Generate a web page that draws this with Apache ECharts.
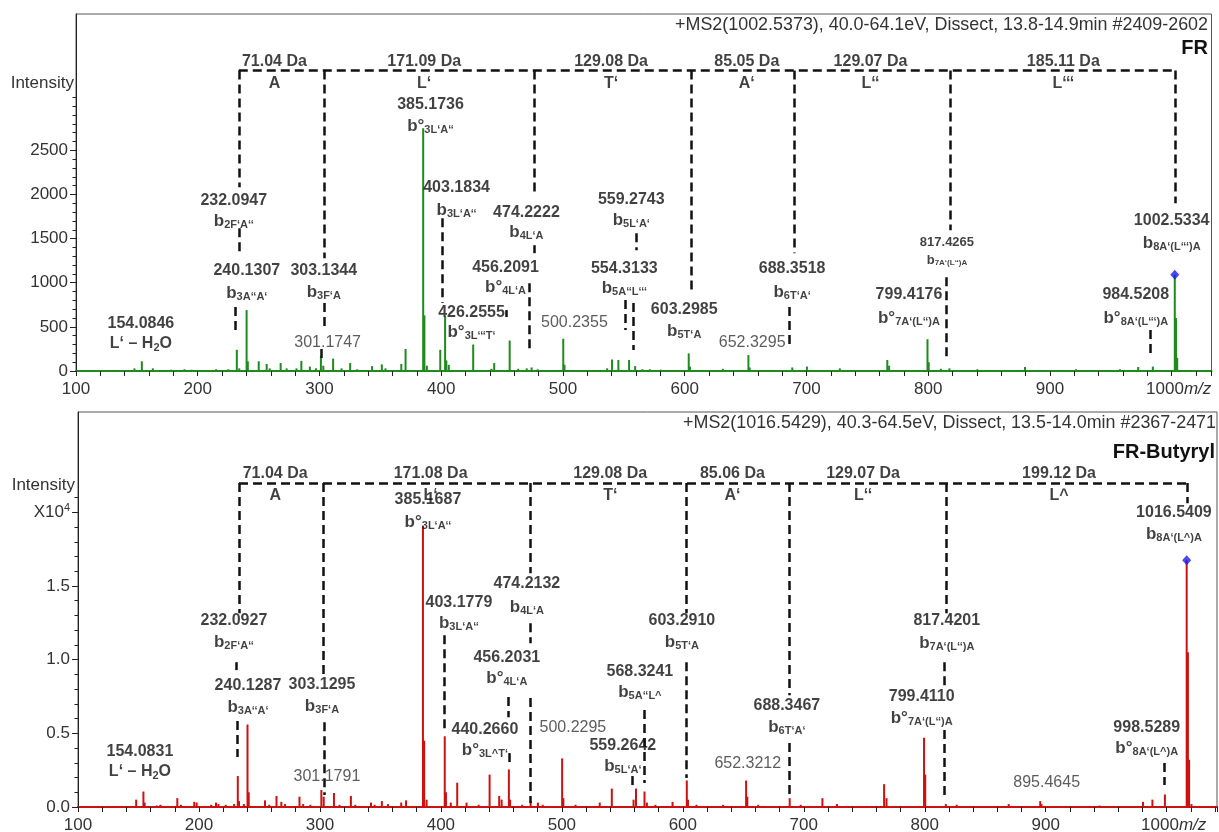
<!DOCTYPE html>
<html>
<head>
<meta charset="utf-8">
<script src="https://cdn.jsdelivr.net/npm/echarts@6/dist/echarts.min.js"></script>
<style>
  html, body { margin: 0; padding: 0; background: #fff; }
  #chart { width: 1219px; height: 832px; }
</style>
</head>
<body>
<div id="chart"></div>
<script>
// ---------- axis tick labels ----------
const mzTicks = [100, 200, 300, 400, 500, 600, 700, 800, 900, 1000];
const frIntensityTicks = [0, 500, 1000, 1500, 2000, 2500];
const butIntensityTicks = [0, 0.5, 1.0, 1.5, 2.0];   // top tick carries the x10^4 factor

// ---------- headers ----------
const frHeader = '+MS2(1002.5373), 40.0-64.1eV, Dissect, 13.8-14.9min #2409-2602';
const frName = 'FR';
const butHeader = '+MS2(1016.5429), 40.3-64.5eV, Dissect, 13.5-14.0min #2367-2471';
const butName = 'FR-Butyryl';

// ---------- FR spectrum: [m/z, intensity] ----------
const frPeaks = [
  [148.0, 30], [154.0846, 110], [163.1, 30], [178.0, 15], [189.1, 20], [195.0, 15], [208.0, 12],
  [215.1, 20], [225.1, 20], [232.0947, 240], [234.1, 30], [240.1307, 690], [241.13, 110],
  [250.1, 110], [256.6, 80], [259.1, 30], [268.1, 90], [273.0, 30], [281.1, 30], [285.1, 115],
  [292.1, 50], [297.1, 30], [301.1747, 170], [303.1344, 60], [311.2, 140], [318.1, 30],
  [325.2, 90], [331.0, 20], [343.2, 55], [351.2, 75], [354.2, 30], [367.2, 80], [370.7, 250],
  [385.1736, 2750], [386.17, 630], [388.2, 60], [399.2, 240], [403.1834, 620], [404.18, 120],
  [406.2, 70], [426.2555, 300], [441.2, 25], [443.5, 90], [456.2091, 345], [463.2, 25],
  [470.2, 30], [474.2222, 40], [479.2, 20], [500.2355, 365], [501.24, 70], [536.3, 30],
  [540.3, 130], [545.5, 125], [554.3133, 125], [559.2743, 55], [565.3, 20], [571.3, 20],
  [580.3, 15], [603.2985, 200], [604.3, 50], [631.3, 25], [652.3295, 180], [653.33, 40],
  [688.3518, 40], [700.4, 50], [727.4, 30], [766.4, 125], [767.9, 60], [799.4176, 360],
  [800.42, 100], [810.4, 25], [817.4265, 30], [840.4, 20], [879.5, 45], [921.5, 20], [957.5, 20],
  [972.5, 45], [984.5208, 50], [1002.5334, 1090], [1003.53, 600], [1004.53, 150]
];
const frPrecursor = 1002.5334;

// ---------- FR-Butyryl spectrum: [m/z, intensity x10^4] ----------
const butPeaks = [
  [148.1, 0.05], [154.0831, 0.105], [155.1, 0.03], [165.1, 0.01], [168.1, 0.015], [182.1, 0.06],
  [185.1, 0.015], [196.1, 0.035], [198.1, 0.03], [210.1, 0.015], [214.1, 0.03], [216.1, 0.02],
  [222.1, 0.015], [229.1, 0.02], [232.0927, 0.21], [233.1, 0.04], [237.1, 0.02], [240.1287, 0.56],
  [241.13, 0.1], [254.6, 0.045], [258.1, 0.015], [264.1, 0.075], [268.1, 0.035], [271.1, 0.02],
  [283.1, 0.07], [286.1, 0.02], [292.1, 0.015], [301.1791, 0.115], [303.1295, 0.07], [311.6, 0.095],
  [316.2, 0.015], [325.6, 0.075], [329.2, 0.015], [342.2, 0.03], [345.2, 0.015], [351.2, 0.04],
  [356.2, 0.02], [367.2, 0.03], [371.2, 0.045], [385.1687, 1.91], [386.17, 0.45], [388.2, 0.05],
  [403.1779, 0.48], [404.18, 0.1], [408.2, 0.03], [413.5, 0.165], [421.2, 0.03], [431.2, 0.015],
  [440.2660, 0.22], [448.2, 0.075], [450.2, 0.05], [456.2031, 0.255], [457.2, 0.05], [467.2, 0.015],
  [474.2132, 0.04], [480.2, 0.03], [484.2, 0.015], [500.2295, 0.33], [501.23, 0.06], [511.3, 0.015],
  [531.3, 0.03], [541.3, 0.125], [559.2642, 0.05], [561.3, 0.125], [568.3241, 0.105], [570.3, 0.03],
  [577.3, 0.015], [591.5, 0.035], [603.2910, 0.18], [604.29, 0.05], [611.3, 0.015], [633.3, 0.015],
  [652.3212, 0.18], [653.32, 0.07], [662.3, 0.015], [688.3467, 0.06], [697.4, 0.015], [715.4, 0.06],
  [727.4, 0.02], [766.4, 0.155], [768.4, 0.06], [799.4110, 0.47], [800.41, 0.22], [817.4201, 0.02],
  [826.4, 0.015], [869.4, 0.02], [895.4645, 0.04], [896.5, 0.02], [944.5, 0.01], [980.4, 0.035],
  [988.2, 0.05], [998.5289, 0.085], [1016.5409, 1.675], [1017.54, 1.05], [1018.54, 0.32], [1020.5, 0.02]
];
const butPrecursor = 1016.5409;

// ---------- sequence ladders (dashed brackets), in data units ----------
const frLadderLevel = 3404;
const frRungs = [[233.7, 2081], [304.3, 1278], [476.6, 1991], [605.1, 893], [689.9, 1335], [818.4, 1595], [1003.3, 1900]];
const frLeaders = [
  [233.7, 1617, 1312], [230.6, 724, 407], [304.3, 769, 498], [301.6, 249, 147],
  [476.6, 1425, 1335], [472.5, 995, 204], [400.8, 1730, 769], [453.6, 690, 611],
  [560.5, 1561, 1369], [558.0, 769, 238], [551.2, 803, 464], [685.8, 724, 271],
  [815.1, 1063, 158], [982.5, 464, 158]
];
const frResidues = [
  [263, '71.04 Da', 'A'], [386, '171.09 Da', 'L‘'], [539.5, '129.08 Da', 'T‘'],
  [651, '85.05 Da', 'A‘'], [752.6, '129.07 Da', 'L‘‘'], [911, '185.11 Da', 'L‘‘‘']
];

const butLadderLevel = 2.199;
const butRungs = [[233.1, 1.315], [302.5, 0.881], [474.1, 1.586], [602.5, 1.315], [687.9, 0.759], [817.9, 1.315], [1016.8, 2.061]];
const butLeaders = [
  [231.2, 0.983, 0.929], [232.0, 0.583, 0.339], [303.3, 0.576, 0.081],
  [474.1, 1.247, 1.112], [473.6, 0.739, 0.027], [402.7, 1.166, 0.502],
  [455.6, 0.746, 0.61], [456.2, 0.366, 0.305], [602.5, 0.983, 0.197],
  [568.0, 0.658, 0.163], [558.1, 0.21, 0.149], [687.9, 0.434, 0.081],
  [816.5, 0.983, 0.793], [816.5, 0.522, 0.068], [998.3, 0.298, 0.149]
];
const butResidues = [
  [263, '71.04 Da', 'A'], [391.5, '171.08 Da', 'L‘'], [540, '129.08 Da', 'T‘'],
  [641, '85.06 Da', 'A‘'], [749, '129.07 Da', 'L‘‘'], [911, '199.12 Da', 'L^']
];

// ---------- fragment annotations: [m/z anchor, intensity anchor, text, kind] ----------
const frMassLabels = [
  [153.3, 532, '154.0846', 'b'], [229.6, 1934, '232.0947', 'b'], [240.3, 1142, '240.1307', 'b'],
  [303.5, 1142, '303.1344', 'b'], [306.7, 317, '301.1747', 'r'], [391.2, 3020, '385.1736', 'b'],
  [412.6, 2081, '403.1834', 'b'], [470, 1798, '474.2222', 'b'], [452.8, 1176, '456.2091', 'b'],
  [424.9, 667, '426.2555', 'b'], [509.4, 543, '500.2355', 'r'], [556.1, 1945, '559.2743', 'b'],
  [550.4, 1165, '554.3133', 'b'], [599.6, 690, '603.2985', 'b'], [655.4, 317, '652.3295', 'r'],
  [688.2, 1165, '688.3518', 'b'], [815.4, 1459, '817.4265', 'sm'], [784.2, 860, '799.4176', 'b'],
  [1000, 1708, '1002.5334', 'b'], [970.5, 860, '984.5208', 'b']
];
// [m/z anchor, intensity anchor, ion, subscript, trailing text, size]
const frIonLabels = [
  [153.3, 305, 'L‘ – H', '2', 'O'], [229.6, 1697, 'b', '2F‘A‘‘'], [240.3, 882, 'b', '3A‘‘A‘'],
  [303.5, 893, 'b', '3F‘A'], [391.2, 2771, 'b°', '3L‘A‘‘'], [412.6, 1821, 'b', '3L‘A‘‘'],
  [470, 1572, 'b', '4L‘A'], [452.8, 950, 'b°', '4L‘A'], [424.9, 441, 'b°', '3L‘‘‘T‘'],
  [556.1, 1708, 'b', '5L‘A‘'], [550.4, 939, 'b', '5A‘‘L‘‘‘'], [599.6, 452, 'b', '5T‘A'],
  [688.2, 893, 'b', '6T‘A‘'], [815.4, 1255, 'b', '7A‘(L‘‘)A', '', 'sm'],
  [784.2, 599, 'b°', '7A‘(L‘‘)A'], [1000, 1448, 'b', '8A‘(L‘‘‘)A'], [970.5, 599, 'b°', '8A‘(L‘‘‘)A']
];

const butMassLabels = [
  [151.2, 0.373, '154.0831', 'b'], [228.9, 1.268, '232.0927', 'b'], [240.5, 0.827, '240.1287', 'b'],
  [301.7, 0.834, '303.1295', 'b'], [305.8, 0.203, '301.1791', 'r'], [389.3, 2.088, '385.1687', 'b'],
  [414.9, 1.39, '403.1779', 'b'], [471.1, 1.519, '474.2132', 'b'], [454.5, 1.017, '456.2031', 'b'],
  [436.4, 0.522, '440.2660', 'b'], [509.1, 0.542, '500.2295', 'r'], [564.5, 0.922, '568.3241', 'b'],
  [550.4, 0.414, '559.2642', 'b'], [599.2, 1.268, '603.2910', 'b'], [653.7, 0.292, '652.3212', 'r'],
  [686, 0.685, '688.3467', 'b'], [818.2, 1.268, '817.4201', 'b'], [797.5, 0.746, '799.4110', 'b'],
  [900.8, 0.163, '895.4645', 'r'], [983.5, 0.536, '998.5289', 'b'], [1006, 2.0, '1016.5409', 'b']
];
const butIonLabels = [
  [151.2, 0.237, 'L‘ – H', '2', 'O'], [228.9, 1.119, 'b', '2F‘A‘‘'], [240.5, 0.678, 'b', '3A‘‘A‘'],
  [301.7, 0.685, 'b', '3F‘A'], [389.3, 1.932, 'b°', '3L‘A‘‘'], [414.9, 1.247, 'b', '3L‘A‘‘'],
  [471.1, 1.356, 'b', '4L‘A'], [454.5, 0.875, 'b°', '4L‘A'], [436.4, 0.386, 'b°', '3L^T‘'],
  [564.5, 0.78, 'b', '5A‘‘L^'], [550.4, 0.278, 'b', '5L‘A‘'], [599.2, 1.119, 'b', '5T‘A'],
  [686, 0.542, 'b', '6T‘A‘'], [818.2, 1.112, 'b', '7A‘(L‘‘)A'], [797.5, 0.603, 'b°', '7A‘(L‘‘)A'],
  [983.5, 0.4, 'b°', '8A‘(L^)A'], [1006, 1.851, 'b', '8A‘(L^)A']
];

// ---------- styling ----------
const FONT = '"Liberation Sans", Arial, Helvetica, sans-serif';
const INK = '#111';
const AXIS_TEXT = '#333';
const GREEN = '#1f8b1f';
const RED = '#cc1111';
const BLUE = '#1a1aee';

const noStroke = { textBorderWidth: 0, textBorderColor: 'transparent', textShadowBlur: 0 };
const rich = {
  b:     { fontFamily: FONT, fontWeight: 'bold', fontSize: 16, color: INK, lineHeight: 18, ...noStroke },
  r:     { fontFamily: FONT, fontWeight: 'normal', fontSize: 16, color: AXIS_TEXT, lineHeight: 18, ...noStroke },
  sm:    { fontFamily: FONT, fontWeight: 'bold', fontSize: 13, color: INK, lineHeight: 15, ...noStroke },
  ion:   { fontFamily: FONT, fontWeight: 'bold', fontSize: 17, color: INK, lineHeight: 19, ...noStroke },
  sub:   { fontFamily: FONT, fontWeight: 'bold', fontSize: 11, color: INK, lineHeight: 12, padding: [8, 0, 0, 0], ...noStroke },
  ionSm: { fontFamily: FONT, fontWeight: 'bold', fontSize: 13, color: INK, lineHeight: 15, ...noStroke },
  subSm: { fontFamily: FONT, fontWeight: 'bold', fontSize: 8, color: INK, lineHeight: 9, padding: [6, 0, 0, 0], ...noStroke }
};

function ionText(entry) {
  const [, , base, sub, tail, size] = entry;
  const small = size === 'sm';
  const bk = base.startsWith('b') ? (small ? 'ionSm' : 'ion') : 'b';
  const sk = small ? 'subSm' : 'sub';
  return '{' + bk + '|' + base + '}{' + sk + '|' + sub + '}' + (tail ? '{' + bk + '|' + tail + '}' : '');
}

function range(from, to, step, digits) {
  const out = [];
  for (let v = from; v <= to + step / 2; v += step) out.push(+v.toFixed(digits));
  return out;
}

function mzAxis(gridIndex, max, baseColor) {
  return {
    type: 'value', gridIndex, min: 100, max, interval: 20, position: 'bottom',
    axisLine: { show: true, onZero: false, lineStyle: { color: baseColor, width: 2 } },
    axisTick: { show: true, length: 5, lineStyle: { color: '#222', width: 1 } },
    axisLabel: {
      show: true, customValues: mzTicks, margin: 10,
      fontFamily: FONT, fontSize: 17, color: AXIS_TEXT,
      formatter: v => (v === 1000 ? '{p|1000}{i|m/z}' : String(v)),
      rich: {
        p: { fontFamily: FONT, fontSize: 17, color: AXIS_TEXT, padding: [0, 0, 0, 14] },
        i: { fontFamily: FONT, fontSize: 17, color: AXIS_TEXT, fontStyle: 'italic' }
      }
    },
    splitLine: { show: false }, minorTick: { show: false }
  };
}

function intensityAxes(gridIndex, max, majors, minors, fmt) {
  return [
    {
      type: 'value', gridIndex, min: 0, max, position: 'left', offset: 0,
      axisLine: { show: true, onZero: false, lineStyle: { color: '#222', width: 1 } },
      axisTick: { show: true, length: 6, customValues: majors, lineStyle: { color: '#222', width: 1 } },
      axisLabel: {
        show: true, customValues: majors, margin: 8, formatter: fmt,
        fontFamily: FONT, fontSize: 17, color: AXIS_TEXT,
        rich: { sup: { fontFamily: FONT, fontSize: 11, color: AXIS_TEXT, lineHeight: 11, padding: [0, 0, 9, 0] } }
      },
      splitLine: { show: false }
    },
    {
      type: 'value', gridIndex, min: 0, max, position: 'left', offset: 0,
      axisLine: { show: false },
      axisTick: { show: true, length: 3.5, customValues: minors, lineStyle: { color: '#222', width: 1 } },
      axisLabel: { show: false },
      splitLine: { show: false }
    }
  ];
}

function panelSeries(xi, yi, peaks, color, precursor, level, rungs, leaders, residues, massLabels, ionLabels) {
  const dash = { color: '#111', width: 2.5, type: [9, 5] };
  const lines = [];
  lines.push([{ coord: [rungs[0][0], level] }, { coord: [rungs[rungs.length - 1][0], level] }]);
  rungs.forEach(([mz, low]) => lines.push([{ coord: [mz, level] }, { coord: [mz, low] }]));
  leaders.forEach(([mz, a, b]) => lines.push([{ coord: [mz, a] }, { coord: [mz, b] }]));

  const top = peaks.find(p => p[0] === precursor);
  const textBase = { show: true, color: INK, ...noStroke, rich };
  const hidden = { color: 'transparent' };

  return [
    {
      type: 'bar', xAxisIndex: xi, yAxisIndex: yi, data: peaks, barWidth: 2,
      itemStyle: { color }, silent: true, z: 2
    },
    {
      type: 'scatter', xAxisIndex: xi, yAxisIndex: yi, data: [top],
      symbol: 'diamond', symbolSize: [9, 10], itemStyle: { color: BLUE }, silent: true, z: 4,
      markLine: {
        silent: true, symbol: ['none', 'none'], label: { show: false },
        lineStyle: dash, emphasis: { disabled: true }, data: lines, z: 3
      }
    },
    {
      type: 'scatter', xAxisIndex: xi, yAxisIndex: yi, symbolSize: 0, silent: true, z: 5, itemStyle: hidden,
      data: massLabels.map(m => ({ value: [m[0], m[1]], label: { formatter: '{' + m[3] + '|' + m[2] + '}' } })),
      label: { ...textBase, position: 'inside' }
    },
    {
      type: 'scatter', xAxisIndex: xi, yAxisIndex: yi, symbolSize: 0, silent: true, z: 5, itemStyle: hidden,
      data: ionLabels.map(m => ({ value: [m[0], m[1]], label: { formatter: ionText(m) } })),
      label: { ...textBase, position: 'inside' }
    },
    {
      type: 'scatter', xAxisIndex: xi, yAxisIndex: yi, symbolSize: 0, silent: true, z: 5, itemStyle: hidden,
      data: residues.map(r => ({ value: [r[0], level], label: { formatter: '{b|' + r[1] + '}' } })),
      label: { ...textBase, position: 'top', distance: 0 }
    },
    {
      type: 'scatter', xAxisIndex: xi, yAxisIndex: yi, symbolSize: 0, silent: true, z: 5, itemStyle: hidden,
      data: residues.map(r => ({ value: [r[0], level], label: { formatter: '{b|' + r[2] + '}' } })),
      label: { ...textBase, position: 'bottom', distance: 4 }
    }
  ];
}

const chart = echarts.init(document.getElementById('chart'), null, { renderer: 'canvas' });

const frYAxes = intensityAxes(0, 4044, frIntensityTicks, range(0, 3100, 100, 0), v => String(v));
const butYAxes = intensityAxes(1, 2.681, butIntensityTicks, range(0, 2.1, 0.1, 1),
  v => (v === 2 ? 'X10{sup|4}' : v.toFixed(1)));

chart.setOption({
  animation: false,
  backgroundColor: '#fff',
  textStyle: { fontFamily: FONT },
  grid: [
    { left: 76, top: 14, width: 1135.5, height: 357, show: true, borderColor: '#555', borderWidth: 1,
      backgroundColor: 'transparent', containLabel: false, outerBoundsMode: 'none' },
    { left: 78, top: 412, width: 1139, height: 395, show: true, borderColor: '#555', borderWidth: 1,
      backgroundColor: 'transparent', containLabel: false, outerBoundsMode: 'none' }
  ],
  xAxis: [mzAxis(0, 1032.7, GREEN), mzAxis(1, 1041.6, RED)],
  yAxis: [...frYAxes, ...butYAxes],
  series: [
    ...panelSeries(0, 0, frPeaks, GREEN, frPrecursor, frLadderLevel, frRungs, frLeaders, frResidues, frMassLabels, frIonLabels),
    ...panelSeries(1, 2, butPeaks, RED, butPrecursor, butLadderLevel, butRungs, butLeaders, butResidues, butMassLabels, butIonLabels)
  ],
  graphic: [
    { type: 'text', x: 1208, y: 25, silent: true,
      style: { text: frHeader, align: 'right', verticalAlign: 'middle', fontFamily: FONT, fontSize: 17.9, fill: AXIS_TEXT } },
    { type: 'text', x: 1208, y: 48, silent: true,
      style: { text: frName, align: 'right', verticalAlign: 'middle', fontFamily: FONT, fontWeight: 'bold', fontSize: 20, fill: INK } },
    { type: 'text', x: 74, y: 83, silent: true,
      style: { text: 'Intensity', align: 'right', verticalAlign: 'middle', fontFamily: FONT, fontSize: 17, fill: AXIS_TEXT } },
    { type: 'text', x: 1216, y: 423, silent: true,
      style: { text: butHeader, align: 'right', verticalAlign: 'middle', fontFamily: FONT, fontSize: 17.9, fill: AXIS_TEXT } },
    { type: 'text', x: 1215, y: 452, silent: true,
      style: { text: butName, align: 'right', verticalAlign: 'middle', fontFamily: FONT, fontWeight: 'bold', fontSize: 20, fill: INK } },
    { type: 'text', x: 75, y: 485, silent: true,
      style: { text: 'Intensity', align: 'right', verticalAlign: 'middle', fontFamily: FONT, fontSize: 17, fill: AXIS_TEXT } }
  ]
});
</script>
</body>
</html>
